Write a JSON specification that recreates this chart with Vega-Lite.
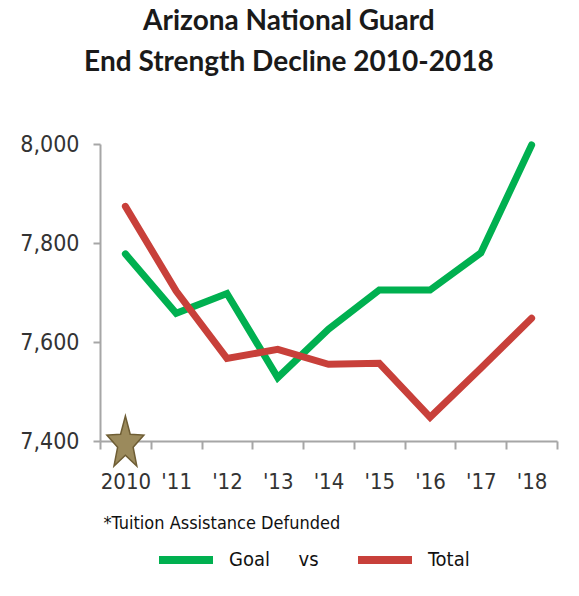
{
  "$schema": "https://vega.github.io/schema/vega-lite/v6.json",
  "width": 457,
  "height": 297,
  "autosize": {"type": "none"},
  "padding": {"left": 100, "top": 144, "right": 22, "bottom": 155},
  "background": "white",
  "title": {
    "text": ["Arizona National Guard", "End Strength Decline 2010-2018"],
    "font": "Lato",
    "fontSize": 28,
    "fontWeight": "bold",
    "color": "#1a1a1a",
    "lineHeight": 41,
    "baseline": "bottom",
    "anchor": "middle",
    "frame": "bounds",
    "offset": 26
  },
  "config": {
    "view": {"stroke": null},
    "font": "DejaVu Sans Condensed"
  },
  "datasets": {
    "strength": [
      {"yr": "2010", "series": "Goal", "value": 7778},
      {"yr": "'11", "series": "Goal", "value": 7658},
      {"yr": "'12", "series": "Goal", "value": 7698},
      {"yr": "'13", "series": "Goal", "value": 7528},
      {"yr": "'14", "series": "Goal", "value": 7626},
      {"yr": "'15", "series": "Goal", "value": 7705},
      {"yr": "'16", "series": "Goal", "value": 7705},
      {"yr": "'17", "series": "Goal", "value": 7780},
      {"yr": "'18", "series": "Goal", "value": 7998},
      {"yr": "2010", "series": "Total", "value": 7874},
      {"yr": "'11", "series": "Total", "value": 7703},
      {"yr": "'12", "series": "Total", "value": 7567},
      {"yr": "'13", "series": "Total", "value": 7585},
      {"yr": "'14", "series": "Total", "value": 7555},
      {"yr": "'15", "series": "Total", "value": 7557},
      {"yr": "'16", "series": "Total", "value": 7448},
      {"yr": "'17", "series": "Total", "value": 7547},
      {"yr": "'18", "series": "Total", "value": 7648}
    ],
    "flag": [
      {"yr": "2010", "value": 7400}
    ]
  },
  "layer": [
    {
      "data": {"name": "strength"},
      "mark": {"type": "line", "strokeWidth": 7, "strokeCap": "round", "strokeJoin": "miter"},
      "encoding": {
        "x": {
          "field": "yr",
          "type": "ordinal",
          "sort": null,
          "bandPosition": 0.5,
          "scale": {"type": "band", "paddingInner": 0, "paddingOuter": 0},
          "axis": {
            "title": "*Tuition Assistance Defunded",
            "titleFont": "DejaVu Sans Condensed",
            "titleFontSize": 18,
            "titleFontWeight": "normal",
            "titleColor": "#111111",
            "titleAnchor": "start",
            "titleAlign": "left",
            "titleBaseline": "alphabetic",
            "titleX": 3,
            "titleY": 87,
            "labelAngle": 0,
            "labelFont": "DejaVu Sans Condensed",
            "labelFontSize": 22,
            "labelColor": "#333333",
            "labelPadding": 22,
            "tickBand": "extent",
            "tickSize": 8,
            "tickWidth": 2,
            "tickColor": "#a6a6a6",
            "domainColor": "#a6a6a6",
            "domainWidth": 2,
            "grid": false
          }
        },
        "y": {
          "field": "value",
          "type": "quantitative",
          "scale": {"domain": [7400, 8000], "nice": false, "zero": false},
          "axis": {
            "title": null,
            "values": [7400, 7600, 7800, 8000],
            "format": ",.0f",
            "labelFont": "DejaVu Sans Condensed",
            "labelFontSize": 23,
            "labelColor": "#333333",
            "labelPadding": 14,
            "tickSize": 7,
            "tickWidth": 2,
            "tickColor": "#a6a6a6",
            "domainColor": "#a6a6a6",
            "domainWidth": 2,
            "grid": false
          }
        },
        "color": {
          "field": "series",
          "type": "nominal",
          "scale": {"domain": ["Goal", "Total"], "range": ["#00b050", "#c8403a"]},
          "legend": {
            "title": null,
            "orient": "none",
            "direction": "horizontal",
            "legendX": 55,
            "legendY": 385,
            "padding": 0,
            "symbolType": "stroke",
            "symbolSize": 2916,
            "symbolStrokeWidth": 8,
            "labelFont": "DejaVu Sans Condensed",
            "labelFontSize": 20,
            "labelColor": "#111111",
            "labelOffset": 12,
            "columnPadding": 23,
            "labelExpr": "datum.label == 'Goal' ? 'Goal\u00a0\u00a0\u00a0\u00a0\u00a0vs' : datum.label"
          }
        }
      }
    },
    {
      "data": {"name": "flag"},
      "mark": {
        "type": "point",
        "shape": "M0,-1L0.192,-0.27L0.74,-0.236L0.31,0.249L0.457,1L0,0.57L-0.457,1L-0.31,0.249L-0.74,-0.236L-0.192,-0.27Z",
        "filled": true,
        "fill": "#9b8a5c",
        "stroke": "#6e5d34",
        "strokeWidth": 1.5,
        "opacity": 1,
        "size": 2500
      },
      "encoding": {
        "x": {"field": "yr", "type": "ordinal", "sort": null, "bandPosition": 0.5},
        "y": {"field": "value", "type": "quantitative"}
      }
    }
  ]
}
